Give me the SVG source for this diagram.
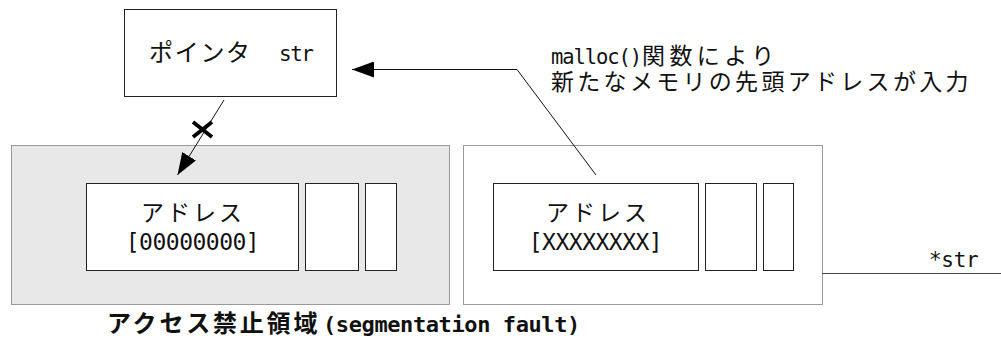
<svg xmlns="http://www.w3.org/2000/svg" width="1001" height="340" viewBox="0 0 1001 340">
<style>
.lat{font-family:"DejaVu Sans Mono","Liberation Mono",monospace;fill:#111}
.cjk{font-family:"Noto Sans CJK JP","Noto Sans CJK SC",sans-serif;fill:#111}
.box{fill:#fff;stroke:#222;stroke-width:1}
.region{stroke:#9a9a9a;stroke-width:1}
.conn{fill:none;stroke:#111;stroke-width:1}
</style>
<defs>
<marker id="arr" markerUnits="userSpaceOnUse" markerWidth="22" markerHeight="16" refX="22" refY="8" orient="auto" viewBox="0 0 22 16">
<path d="M0,0 L22,8 L0,16 z" fill="#000"/>
</marker>
</defs>
<rect width="1001" height="340" fill="#fff"/>

<g id="region-forbidden">
<rect class="region" x="11.5" y="145.5" width="438" height="159" fill="#e8e8e8"/>
<text y="332"><tspan class="cjk" x="107" font-size="24" letter-spacing="2.8" font-weight="bold">アクセス禁止領域</tspan><tspan class="lat" x="323" font-size="22" letter-spacing="-0.4" font-weight="bold">(segmentation fault)</tspan></text>
</g>

<g id="region-new">
<rect class="region" x="463.5" y="145.5" width="359" height="159" fill="#fff"/>
</g>

<g id="pointer">
<rect class="box" x="124.5" y="9.5" width="212" height="87"/>
<text y="61"><tspan class="cjk" x="149" font-size="24" letter-spacing="1.7">ポインタ</tspan><tspan class="lat" x="279" font-size="21" letter-spacing="-1.5">str</tspan></text>
</g>

<g id="addr-old">
<rect class="box" x="86.5" y="183.5" width="212" height="87"/>
<text x="192.5" y="220.5"><tspan class="cjk" x="141" font-size="23" letter-spacing="3">アドレス</tspan><tspan class="lat" x="192.5" y="250" font-size="23" letter-spacing="-0.5" text-anchor="middle">[00000000]</tspan></text>
</g>
<g id="cell-old-1"><rect class="box" x="305.5" y="183.5" width="53" height="87"/></g>
<g id="cell-old-2"><rect class="box" x="365.5" y="183.5" width="31" height="87"/></g>

<g id="addr-new">
<rect class="box" x="493.5" y="183.5" width="205" height="87"/>
<text x="595.5" y="220.5"><tspan class="cjk" x="546" font-size="23" letter-spacing="3">アドレス</tspan><tspan class="lat" x="595.5" y="250" font-size="23" letter-spacing="-0.5" text-anchor="middle">[XXXXXXXX]</tspan></text>
</g>
<g id="cell-new-1"><rect class="box" x="705.5" y="183.5" width="51" height="87"/></g>
<g id="cell-new-2"><rect class="box" x="763.5" y="183.5" width="30" height="87"/></g>

<g id="malloc-label">
<text y="64"><tspan class="lat" x="551" font-size="20.5" letter-spacing="-1.1">malloc()</tspan><tspan class="cjk" x="642" font-size="23" letter-spacing="4.4">関数により</tspan><tspan class="cjk" x="551" y="89.5" font-size="23" letter-spacing="3.3">新たなメモリの先頭アドレスが入力</tspan></text>
</g>

<g id="str-label">
<text class="lat" x="929" y="267" font-size="21" letter-spacing="-0.3">*str</text>
</g>

<g id="connectors">
<path class="conn" d="M596,175 L517,69.5 L352,69.5" marker-end="url(#arr)"/>
<path class="conn" d="M224,100 L177.5,175" marker-end="url(#arr)"/>
<path d="M193,122 L212,137 M212,122 L193,137" stroke="#000" stroke-width="3.8" fill="none"/>
<path d="M822,273.5 L1001,273.5" stroke="#444" stroke-width="1" fill="none"/>
</g>
</svg>
